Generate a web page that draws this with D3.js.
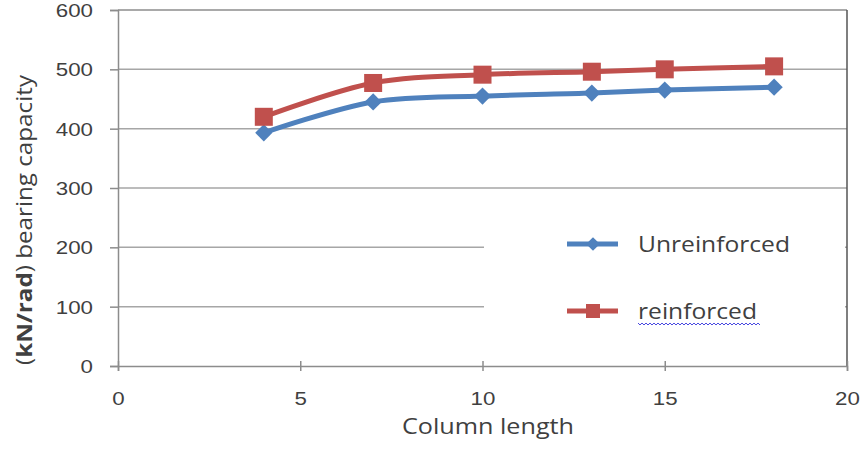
<!DOCTYPE html>
<html>
<head>
<meta charset="utf-8">
<script src="https://cdn.jsdelivr.net/npm/d3@7"></script>
<style>
  html, body { margin: 0; padding: 0; background: #fff; }
  svg text { font-family: "Open Sans", "Noto Sans", sans-serif; fill: #404040; }
</style>
</head>
<body>
<svg id="chart" width="866" height="451"></svg>
<script>
const columnLength = [4, 7, 10, 13, 15, 18];
const unreinforced = [393, 445, 455, 460, 465, 470];
const reinforced   = [420, 477, 491, 496, 500, 505];
const xTicks = [0, 5, 10, 15, 20];
const yTicks = [0, 100, 200, 300, 400, 500, 600];
const seriesNames = ["Unreinforced", "reinforced"];
const xTitle = "Column length";

const svg = d3.select("#chart");
const x = d3.scaleLinear().domain([0, 20]).range([118, 847]);
const y = d3.scaleLinear().domain([0, 600]).range([366, 10]);

// gridlines
svg.append("g").selectAll("line").data(yTicks.filter(v => v > 0)).join("line")
  .attr("x1", x(0)).attr("x2", x(20))
  .attr("y1", d => y(d)).attr("y2", d => y(d))
  .attr("stroke", d => d === 600 ? "#8c8c8c" : "#a6a6a6").attr("stroke-width", 1.5);

// right border
svg.append("line").attr("x1", x(20)).attr("x2", x(20)).attr("y1", y(600)).attr("y2", y(0))
  .attr("stroke", "#555").attr("stroke-width", 1.5);

// axes
const yAxis = d3.axisLeft(y).tickValues(yTicks).tickSize(8).tickPadding(17).tickFormat(d3.format("d"));
const gy = svg.append("g").attr("transform", `translate(${x(0)},0)`).call(yAxis);
const xAxis = d3.axisBottom(x).tickValues(xTicks).tickSize(5).tickPadding(21).tickFormat(d3.format("d"));
const gx = svg.append("g").attr("transform", `translate(0,${y(0)})`).call(xAxis);
[gy, gx].forEach(g => {
  g.select(".domain").attr("stroke", "#8c8c8c").attr("stroke-width", 1.5);
  g.selectAll(".tick line").attr("stroke", "#8c8c8c").attr("stroke-width", 1.5);
  g.selectAll(".tick text").attr("font-size", 18).attr("fill", "#404040")
    .style("font-family", '"Liberation Sans", Arial, sans-serif')
    .attr("textLength", d => String(d).length * 12.4)
    .attr("lengthAdjust", "spacingAndGlyphs");
});
gy.selectAll(".tick text").attr("dy", "0.36em");
gx.selectAll(".tick line").attr("y1", -5).attr("y2", 5);

// x title
svg.append("text").attr("x", 488).attr("y", 434).attr("text-anchor", "middle")
  .attr("font-size", 21).attr("textLength", 172).attr("lengthAdjust", "spacingAndGlyphs")
  .text(xTitle);

// y title
const yt = svg.append("text").attr("transform", "translate(32,220) rotate(-90)")
  .attr("text-anchor", "middle").attr("font-size", 21)
  .attr("textLength", 290).attr("lengthAdjust", "spacingAndGlyphs");
yt.append("tspan").text("(");
yt.append("tspan").attr("font-weight", "bold").text("kN/rad");
yt.append("tspan").text(") bearing capacity");

// legend background (covers gridlines)
svg.append("rect").attr("x", 484).attr("y", 200).attr("width", 361).attr("height", 140).attr("fill", "#fff");

const colors = ["#4F81BD", "#C0504D"];
const data = [unreinforced, reinforced];
const line = d3.line().x((d, i) => x(columnLength[i])).y(d => y(d)).curve(d3.curveCatmullRom.alpha(0.5));

data.forEach((vals, s) => {
  svg.append("path").datum(vals).attr("d", line)
    .attr("fill", "none").attr("stroke", colors[s]).attr("stroke-width", 5)
    .attr("stroke-linejoin", "round");
});

// markers
svg.append("g").selectAll("path").data(unreinforced).join("path")
  .attr("transform", (d, i) => `translate(${x(columnLength[i])},${y(d)})`)
  .attr("d", d3.symbol(d3.symbolDiamond2, 190)).attr("fill", colors[0]);
svg.append("g").selectAll("rect").data(reinforced).join("rect")
  .attr("x", (d, i) => x(columnLength[i]) - 9).attr("y", d => y(d) - 9)
  .attr("width", 18).attr("height", 18).attr("fill", colors[1]);

// legend
const legY = [244, 311];
const legW = [152, 119];
seriesNames.forEach((name, s) => {
  svg.append("line").attr("x1", 567).attr("x2", 618).attr("y1", legY[s]).attr("y2", legY[s])
    .attr("stroke", colors[s]).attr("stroke-width", 5);
  if (s === 0) {
    svg.append("path").attr("transform", `translate(593,${legY[s]})`)
      .attr("d", d3.symbol(d3.symbolDiamond2, 120)).attr("fill", colors[0]);
  } else {
    svg.append("rect").attr("x", 586).attr("y", legY[s] - 7).attr("width", 14).attr("height", 14).attr("fill", colors[1]);
  }
  svg.append("text").attr("x", 638).attr("y", legY[s] + 8).attr("font-size", 21)
    .attr("textLength", legW[s]).attr("lengthAdjust", "spacingAndGlyphs").text(name);
});
// spell-check wavy underline under "reinforced"
let wave = "M638,323";
for (let px = 638, k = 0; px < 760; px += 2, k++) wave += ` L${px + 2},${k % 2 ? 323 : 325}`;
svg.append("path").attr("d", wave).attr("fill", "none").attr("stroke", "#4a4ae0").attr("stroke-width", 1);
</script>
</body>
</html>
